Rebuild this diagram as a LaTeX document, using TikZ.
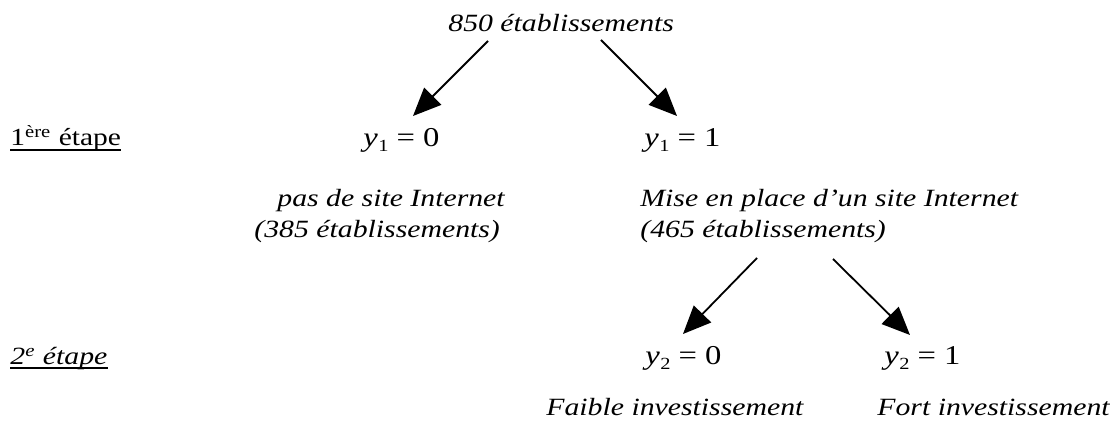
\documentclass[tikz,border=0pt]{standalone}
\usepackage{fontspec}
\setmainfont[FakeStretch=1.2]{Liberation Serif}
\usetikzlibrary{arrows.meta}

% equation label such as y_1 = 0, set in the text font
\newcommand{\yvar}[2]{{\itshape y}\kern0.3pt\raisebox{-0.35ex}{\fontsize{8.5}{8.5}\selectfont #1}\kern4pt=\kern4pt#2}

\tikzset{
  lbl/.style={inner sep=0pt, anchor=base west, font=\fontsize{12.3}{14}\selectfont},
  ilbl/.style={lbl, font=\fontsize{12.4}{14}\selectfont\itshape},
  eq/.style={lbl, font=\fontsize{13.6}{14}\selectfont},
  branch/.style={line width=0.9pt, -{Triangle[length=14pt,width=12pt]}},
  uline/.style={line width=0.7pt}
}

\begin{document}
\begin{tikzpicture}[x=0.5pt, y=-0.5pt]
  \useasboundingbox (0,0) rectangle (1110,432);

  % root
  \node[ilbl] (root) at (448,32) {850 établissements};

  % first stage
  \node[lbl] (s1) at (10,146) {1\textsuperscript{ère} étape};
  \draw[uline] ([yshift=-2pt]s1.base west) -- ([yshift=-2pt]s1.base east);
  \node[eq] (y10) at (363,147) {\yvar{1}{0}};
  \node[eq] (y11) at (644,147) {\yvar{1}{1}};
  \node[ilbl] (no) at (277,207) {pas de site Internet};
  \node[ilbl] (no n) at (254,238) {(385 établissements)};
  \node[ilbl] (yes) at (640,207) {Mise en place d’un site Internet};
  \node[ilbl] (yes n) at (640,238) {(465 établissements)};

  % second stage
  \node[ilbl] (s2) at (10,365) {2\textsuperscript{e} étape};
  \draw[uline] ([yshift=-1.5pt]s2.base west) -- ([yshift=-1.5pt]s2.base east);
  \node[eq] (y20) at (645,365) {\yvar{2}{0}};
  \node[eq] (y21) at (884,365) {\yvar{2}{1}};
  \node[ilbl] (low) at (546,416) {Faible investissement};
  \node[ilbl] (high) at (877,416) {Fort investissement};

  % branch end points
  \coordinate (r l) at (488,41);
  \coordinate (r r) at (601,40);
  \coordinate (t10) at (413,116);
  \coordinate (t11) at (677,116);
  \coordinate (n l) at (757,258);
  \coordinate (n r) at (833,259);
  \coordinate (t20) at (683,334);
  \coordinate (t21) at (910,335);

  \draw[branch] (r l) -- (t10);
  \draw[branch] (r r) -- (t11);
  \draw[branch] (n l) -- (t20);
  \draw[branch] (n r) -- (t21);
\end{tikzpicture}
\end{document}
